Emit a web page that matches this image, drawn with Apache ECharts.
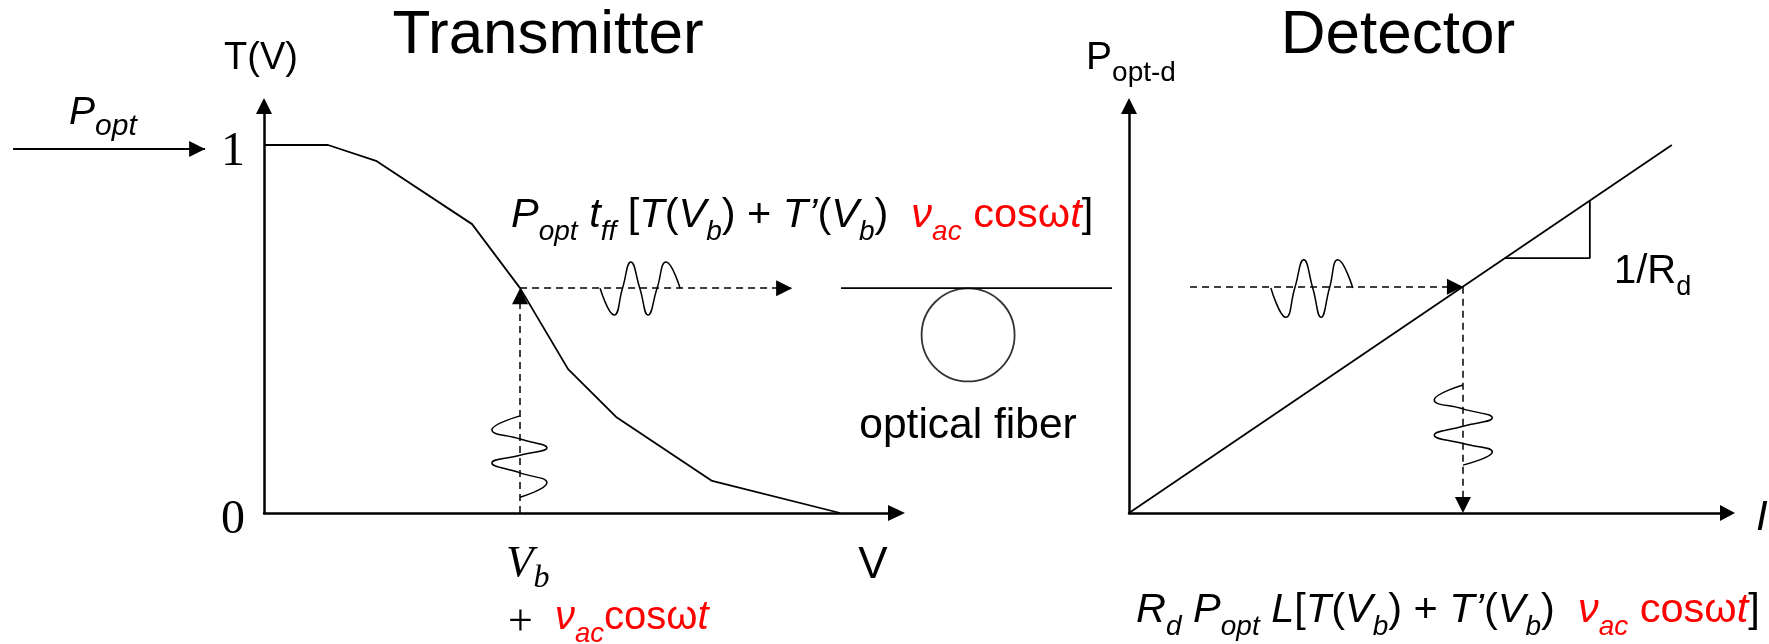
<!DOCTYPE html>
<html><head><meta charset="utf-8">
<script src="https://cdn.jsdelivr.net/npm/echarts@6/dist/echarts.min.js"></script>
<style>html,body{margin:0;padding:0;background:#fff}#c{width:1769px;height:644px}</style>
</head><body><div id="c"></div>
<script>
// ---------- data ----------
// Transmitter transfer curve T(V)
const txV = [0, 1.0, 1.75, 3.25, 4.0, 4.75, 5.5, 7.0, 9.0];
const txT = [1, 1, 0.957, 0.785, 0.611, 0.391, 0.261, 0.087, 0];
const txYTicks = [0, 1];
const txYTickText = ['0', '1'];
const Vb = 4.0, TVb = 0.611;
const txArrowEndV = 8.25;
// incoming optical power arrow (V axis extended to the left)
const inArrowV = [-3.92, -0.92];
const inArrowT = 0.989;
// drive waveform around Vb (extremes and crossings)
const vinWaveV = [4.0, 3.56, 4.0, 4.42, 4.0, 3.56, 4.0, 4.42, 4.0];
const vinWaveT = [0.264, 0.226, 0.201, 0.177, 0.157, 0.136, 0.109, 0.082, 0.043];
// transmitted optical waveform
const toutWaveV = [5.25, 5.47, 5.60, 5.73, 5.87, 6.00, 6.14, 6.28, 6.50];
const toutWaveT = [0.611, 0.538, 0.611, 0.682, 0.611, 0.538, 0.611, 0.682, 0.611];
// optical fiber
const fiberX = [0, 1];
const fiberT = [0.611, 0.611];
const coilX = 0.469, coilT = 0.484;
// Detector line P = I / Rd
const detI = [0, 9.07];
const detP = [0, 6.15];
const Iop = 5.58, Pop = 3.78;
const detArrowStartI = 1.02;
const slopeI = [6.28, 7.70, 7.70];
const slopeP = [4.26, 4.26, 5.22];
const dinWaveI = [2.37, 2.62, 2.77, 2.92, 3.07, 3.21, 3.35, 3.49, 3.74];
const dinWaveP = [3.76, 3.27, 3.76, 4.23, 3.76, 3.27, 3.76, 4.23, 3.76];
const doutWaveI = [5.58, 5.10, 5.58, 6.07, 5.58, 5.10, 5.58, 6.07, 5.58];
const doutWaveP = [2.14, 1.89, 1.74, 1.59, 1.45, 1.30, 1.16, 1.02, 0.80];

// ---------- texts ----------
const titleTx = 'Transmitter';
const titleDet = 'Detector';
const fiberText = 'optical fiber';
const formulaTop = '{mi|P}{si|opt}{m| }{mi|t}{si|ff}{m| [}{mi|T}{m|(}{mi|V}{si|b}{m|) + }{mi|T’}{m|(}{mi|V}{si|b}{m|)  }{rmi|ν}{rsi|ac}{rm| cos}{rm|ω}{rmi|t}{m|]}';
const formulaBot = '{mi|R}{si|d}{m| }{mi|P}{si|opt}{m| }{mi|L}{m|[}{mi|T}{m|(}{mi|V}{si|b}{m|) + }{mi|T’}{m|(}{mi|V}{si|b}{m|)  }{rmi|ν}{rsi|ac}{rm| cos}{rm|ω}{rmi|t}{m|]}';

// ---------- helpers ----------
const SANS = '"Liberation Sans", Arial, sans-serif';
const SERIF = '"Liberation Serif", "Times New Roman", serif';
const RED = '#ff0000';
const K = 22;
function mkRich(defs, subDrop) {
  const rich = {}; let L = 0;
  for (const k in defs) {
    const [size, fam, it, col, sub] = defs[k];
    const c = fam === SERIF ? 0.30 : 0.1535;
    const pad = Math.max(0, (sub ? K - subDrop : K) - c * size);
    rich[k] = {font: (it ? 'italic ' : '') + size + 'px ' + fam, fill: col,
               verticalAlign: 'bottom', padding: [0, 0, pad, 0]};
    L = Math.max(L, size + pad);
  }
  for (const k in rich) rich[k].lineHeight = L;
  return {rich, L};
}
function label(x, baseline, align, text, defs, subDrop) {
  const r = mkRich(defs, subDrop || 0);
  return {type: 'text', x: x, y: baseline - r.L + K, silent: true, z: 100,
    style: {text: text, rich: r.rich, align: align, textAlign: align,
            verticalAlign: 'top', textVerticalAlign: 'top'}};
}
const fDefs = {
  m: [41.5, SANS, false, '#000'], mi: [41.5, SANS, true, '#000'], si: [28, SANS, true, '#000', true],
  rm: [41.5, SANS, false, RED], rmi: [41.5, SANS, true, RED], rsi: [28, SANS, true, RED, true]
};

const AX = {color: '#000', width: 2.5};
const pts = (xs, ys) => xs.map((x, i) => [x, ys[i]]);
function line(gi, data, extra) {
  return Object.assign({type: 'line', xAxisIndex: gi, yAxisIndex: gi, data: data, symbol: 'none',
    silent: true, animation: false, lineStyle: {color: '#000', width: 1.8}}, extra || {});
}
function arrows(lines, dashed) {
  return {silent: true, animation: false, symbol: ['none', 'triangle'], symbolSize: 16,
    symbolOffset: [0, [0, 8]], label: {show: false}, emphasis: {disabled: true},
    lineStyle: {type: dashed ? [7, 5] : 'solid', color: '#000', width: dashed ? 1.5 : 1.8},
    data: lines};
}
const hiddenX = (gi, min, max) => ({gridIndex: gi, type: 'value', min: min, max: max, show: false});

const option = {
  animation: false,
  grid: [
    {left: 264, top: 106, width: 632.5, height: 407},
    {left: 841, top: 106, width: 271, height: 407},
    {left: 1129, top: 106, width: 598.5, height: 407},
    {left: 0, top: 106, width: 264, height: 407}
  ],
  xAxis: [
    {gridIndex: 0, type: 'value', min: 0, max: 9.88,
     axisLine: {show: true, symbol: ['none', 'triangle'], symbolSize: [16, 17], lineStyle: AX},
     axisTick: {show: false}, axisLabel: {show: false}, splitLine: {show: false}},
    hiddenX(1, 0, 1),
    {gridIndex: 2, type: 'value', min: 0, max: 10,
     axisLine: {show: true, symbol: ['none', 'triangle'], symbolSize: [16, 15], lineStyle: AX},
     axisTick: {show: false}, axisLabel: {show: false}, splitLine: {show: false}},
    hiddenX(3, -4.124, 0)
  ],
  yAxis: [
    {gridIndex: 0, type: 'value', min: 0, max: 1.106, interval: 1,
     axisLine: {show: true, symbol: ['none', 'triangle'], symbolSize: [16, 16], lineStyle: AX},
     axisTick: {show: false}, splitLine: {show: false},
     axisLabel: {show: true, margin: 19, verticalAlign: 'top', lineHeight: 14, color: '#000',
       fontFamily: 'Liberation Serif', fontSize: 48,
       formatter: v => { const i = txYTicks.indexOf(v); return i >= 0 ? txYTickText[i] : ''; }}},
    hiddenX(1, 0, 1.106),
    {gridIndex: 2, type: 'value', min: 0, max: 6.8,
     axisLine: {show: true, symbol: ['none', 'triangle'], symbolSize: [16, 16], lineStyle: AX},
     axisTick: {show: false}, axisLabel: {show: false}, splitLine: {show: false}},
    hiddenX(3, 0, 1.106)
  ],
  series: [
    line(0, pts(txV, txT), {markLine: arrows([
      [{coord: [Vb, 0]}, {coord: [Vb, TVb]}],
      [{coord: [Vb, TVb]}, {coord: [txArrowEndV, TVb]}]
    ], true)}),
    line(0, pts(vinWaveV, vinWaveT), {smooth: 0.5, lineStyle: {color: '#000', width: 1.5}}),
    line(0, pts(toutWaveV, toutWaveT), {smooth: 0.5, lineStyle: {color: '#000', width: 1.5}}),
    line(3, [], {markLine: arrows([
      [{coord: [inArrowV[0], inArrowT]}, {coord: [inArrowV[1], inArrowT]}]
    ], false)}),
    line(1, pts(fiberX, fiberT)),
    {type: 'scatter', xAxisIndex: 1, yAxisIndex: 1, data: [[coilX, coilT]], symbol: 'circle',
     symbolSize: 93, silent: true, animation: false,
     itemStyle: {color: 'rgba(0,0,0,0)', borderColor: '#000', borderWidth: 1.8}},
    line(2, pts(detI, detP), {markLine: arrows([
      [{coord: [detArrowStartI, Pop]}, {coord: [Iop, Pop]}],
      [{coord: [Iop, Pop]}, {coord: [Iop, 0]}]
    ], true)}),
    line(2, pts(slopeI, slopeP)),
    line(2, pts(dinWaveI, dinWaveP), {smooth: 0.5, lineStyle: {color: '#000', width: 1.5}}),
    line(2, pts(doutWaveI, doutWaveP), {smooth: 0.5, lineStyle: {color: '#000', width: 1.5}})
  ],
  graphic: [
    label(548, 57, 'center', '{t|' + titleTx + '}', {t: [62, SANS, false, '#000']}),
    label(1398, 57, 'center', '{t|' + titleDet + '}', {t: [62, SANS, false, '#000']}),
    label(261, 72, 'center', '{t|T(V)}', {t: [38, SANS, false, '#000']}),
    label(1131, 72, 'center', '{m|P}{s|opt-d}', {m: [39, SANS, false, '#000'], s: [28, SANS, false, '#000', true]}, 11),
    label(69, 127, 'left', '{m|P}{s|opt}', {m: [39, SANS, true, '#000'], s: [30, SANS, true, '#000', true]}, 10),
    label(511, 230, 'left', formulaTop, fDefs, 12),
    label(1136, 625, 'left', formulaBot, fDefs, 12),
    label(968, 441, 'center', '{t|' + fiberText + '}', {t: [42.5, SANS, false, '#000']}),
    label(873, 581, 'center', '{t|V}', {t: [44, SANS, false, '#000']}),
    label(506, 573, 'left', '{m|V}{s|b}', {m: [45, SERIF, true, '#000'], s: [32, SERIF, true, '#000', true]}, 14),
    label(508, 632, 'left', '{p|+}{m|  }{rmi|ν}{rsi|ac}{rm|cos}{rm|ω}{rmi|t}',
      {p: [44, SERIF, false, '#000'], m: [40, SANS, false, '#000'], rmi: [40, SANS, true, RED],
       rsi: [27.5, SANS, true, RED, true], rm: [40, SANS, false, RED]}, 12),
    label(1614, 286, 'left', '{m|1/R}{s|d}', {m: [40, SANS, false, '#000'], s: [27, SANS, false, '#000', true]}, 11),
    label(1756, 533, 'left', '{t|I}', {t: [42, SANS, true, '#000']})
  ]
};
const chart = echarts.init(document.getElementById('c'), null, {renderer: 'canvas', width: 1769, height: 644});
chart.setOption(option);
</script>
</body></html>
